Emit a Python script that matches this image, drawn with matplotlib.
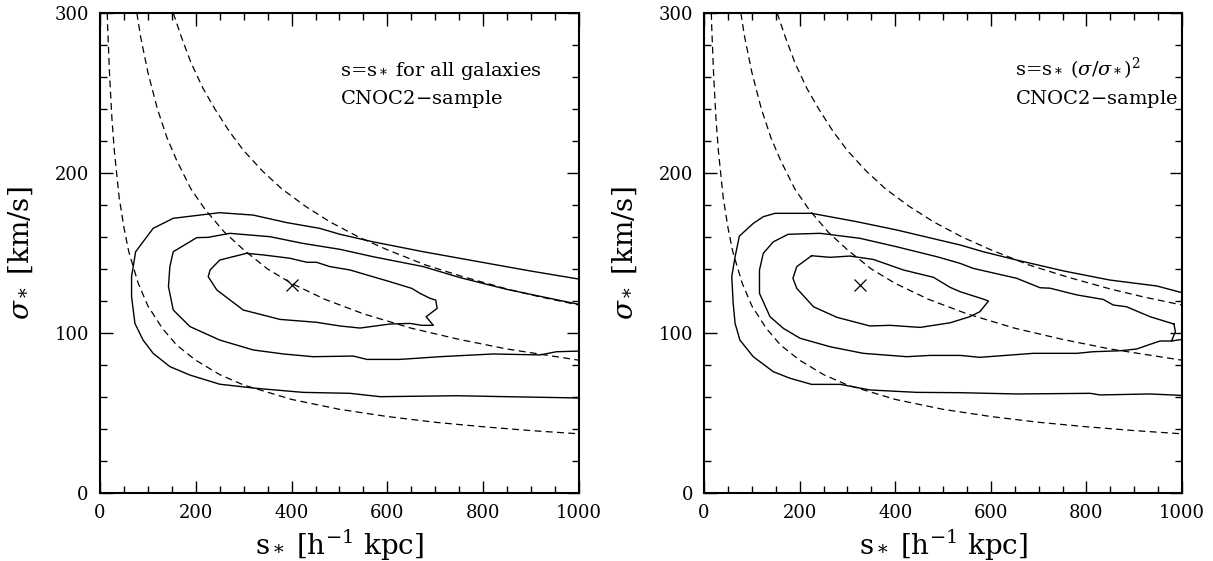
import matplotlib
matplotlib.use("Agg")
import matplotlib.pyplot as plt
from matplotlib.ticker import MultipleLocator

plt.rcParams['font.family'] = ['DejaVu Serif']
plt.rcParams['mathtext.fontset'] = 'dejavuserif'

# likelihood contours, (s_*, sigma_*) pairs
# left panel: s = s_* for all galaxies
left_outer = [(1000, 133.7), (898, 138.8), (779, 145.2), (675, 150.8), (570, 157), (501, 161.7),
              (459, 165.4), (390, 169), (320, 173.7), (250, 175.2), (153, 171.7), (111, 165.4),
              (74.5, 150.8), (66, 135.2), (66, 122.7), (73, 106), (90, 95.6), (111, 87.3),
              (146, 79), (188, 73.7), (250, 68), (327, 65.4), (424, 62.9), (522, 62.3),
              (585, 60.2), (745, 60.8), (849, 60.2), (1000, 59.4)]
left_middle = [(1000, 117.9), (905, 123.8), (849, 127.3), (752, 134.6), (675, 141.5), (570, 147.7),
               (501, 152.3), (424, 156), (355, 160.2), (271, 162.3), (226, 159.8), (202, 159.6),
               (153, 150.8), (146, 141.5), (143, 129), (153, 114.4), (188, 104), (250, 95.6),
               (320, 89.4), (383, 86.9), (445, 85.2), (529, 85.6), (557, 83.5), (626, 83.5),
               (710, 85.2), (821, 86.9), (919, 86.3), (953, 88.3), (1000, 88.7)]
left_inner = [(306, 149.8), (341, 148.8), (397, 146.7), (432, 144.2), (452, 144.2), (480, 141.5),
              (522, 139.4), (557, 136.3), (605, 132.1), (651, 127.9), (668, 124.8), (689, 121.7),
              (701, 120.6), (704, 115.4), (681, 110.2), (696, 104.8), (672, 104.8), (647, 106),
              (605, 105.6), (543, 103.1), (501, 104.4), (452, 106.7), (376, 108.5), (299, 114.4),
              (244, 126.9), (226, 135.2), (230, 139.4), (250, 145.6), (306, 149.8)]
left_best = (400, 130)

# right panel: s = s_* (sigma/sigma_*)^2
right_outer = [(1000, 125.2), (947, 129.4), (849, 133.1), (752, 138.8), (654, 145.6), (584, 150.8),
               (536, 155), (403, 164.4), (319, 169.6), (225, 174.8), (148.5, 174.8), (124, 172.7),
               (103, 168.5), (74, 160.6), (65, 147.7), (58, 135.2), (61, 118.5), (65, 106),
               (75, 95.6), (103, 85.2), (145, 75.8), (180, 71.7), (225, 67.9), (285, 67.9),
               (347, 64.4), (445, 62.9), (536, 62.7), (654, 61.9), (808, 62.3), (828, 61.3),
               (933, 61.9), (1000, 61)]
right_middle = [(983, 105.6), (933, 110.2), (884, 116.4), (856, 117.5), (835, 121), (780, 123.8),
                (724, 128), (703, 128.3), (654, 134.2), (563, 140.4), (536, 143.5), (487, 147.7),
                (403, 153.9), (326, 159.2), (243, 162.3), (176, 161.7), (145, 157), (124, 149.8),
                (116, 139.4), (116, 124.8), (138, 110.2), (166, 102.9), (201, 96.7), (264, 91.4),
                (333, 87.3), (424, 85.2), (473, 86), (536, 86), (577, 84.8), (689, 87.3),
                (780, 87.3), (814, 88.3), (870, 88.9), (905, 90), (933, 92.9), (954, 95),
                (978, 95), (986, 100.8), (983, 105.6)]
right_stub = [(978, 95), (1000, 96)]
right_inner = [(225, 148.3), (264, 147.3), (305, 148.1), (354, 146), (417, 139.4), (480, 134.8),
               (515, 128.5), (536, 125.8), (584, 121.2), (595, 120), (577, 113.3), (556, 110.2),
               (515, 106.4), (452, 103.5), (389, 104.8), (347, 104.4), (278, 109.8), (229, 116.4),
               (194, 127.9), (186, 134.2), (194, 141.5), (225, 148.3)]
right_best = (326, 130)

# dashed curves (same in both panels)
dash_low = [(15.3, 300), (16, 292), (20, 262), (25, 234), (30, 214), (40, 185), (50, 166), (60, 151),
            (80, 131), (100, 117), (130, 103), (160, 92.5), (200, 83), (250, 74), (300, 67.5),
            (400, 58.5), (500, 52.3), (600, 47.8), (700, 44.2), (800, 41.4), (900, 39), (1000, 37)]
dash_mid = [(77, 300), (85, 285), (100, 263), (120, 240), (140, 222), (160, 208), (190, 190),
            (220, 177), (260, 163), (300, 152), (350, 140), (400, 131), (470, 121), (550, 112),
            (650, 103), (750, 96), (850, 90), (1000, 83)]
dash_high = [(153, 300), (170, 285), (190, 269), (215, 253), (240, 240), (270, 226), (300, 214),
             (340, 201), (380, 190), (430, 179), (480, 169.5), (540, 160), (600, 152), (680, 142.5),
             (760, 135), (850, 127.5), (920, 122.5), (1000, 117.5)]

left_text = ["s=s$_*$ for all galaxies", "CNOC2$-$sample"]
right_text = ["s=s$_*$ ($\\sigma/\\sigma_*$)$^2$", "CNOC2$-$sample"]


def trace(ax, pts, **kw):
    xs = [p[0] for p in pts]
    ys = [p[1] for p in pts]
    ax.plot(xs, ys, **kw)


def panneau(ax, contours, best, textes, xtexte):
    for c in [dash_low, dash_mid, dash_high]:
        trace(ax, c, color='black', lw=0.9, dashes=(5.5, 3.5))
    for c in contours:
        trace(ax, c, color='black', lw=1.0)
    ax.plot(best[0], best[1], marker='x', color='black', ms=8, mew=0.9)

    ax.text(xtexte, 260.6, textes[0], fontsize=14)
    ax.text(xtexte, 243, textes[1], fontsize=14)

    ax.set_xlim(0, 1000)
    ax.set_ylim(0, 300)
    ax.xaxis.set_major_locator(MultipleLocator(200))
    ax.xaxis.set_minor_locator(MultipleLocator(50))
    ax.yaxis.set_major_locator(MultipleLocator(100))
    ax.yaxis.set_minor_locator(MultipleLocator(20))
    ax.tick_params(which='both', direction='in', top=True, right=True, labelsize=13, pad=8)
    ax.tick_params(which='major', length=9, width=1)
    ax.tick_params(which='minor', length=5, width=1)
    for s in ax.spines.values():
        s.set_linewidth(1.5)
    ax.set_xlabel("s$_*$ [h$^{-1}$ kpc]", fontsize=20, labelpad=4)
    ax.set_ylabel("$\\sigma_*$ [km/s]", fontsize=20, labelpad=14)


fig = plt.figure(figsize=(12.13, 5.61), dpi=100)
ax1 = fig.add_axes([0.0824, 0.1212, 0.3949, 0.8556])
ax2 = fig.add_axes([0.5804, 0.1212, 0.3941, 0.8556])

panneau(ax1, [left_outer, left_middle, left_inner], left_best, left_text, 501)
panneau(ax2, [right_outer, right_middle, right_stub, right_inner], right_best, right_text, 651)

fig.savefig("out.png", dpi=100)
